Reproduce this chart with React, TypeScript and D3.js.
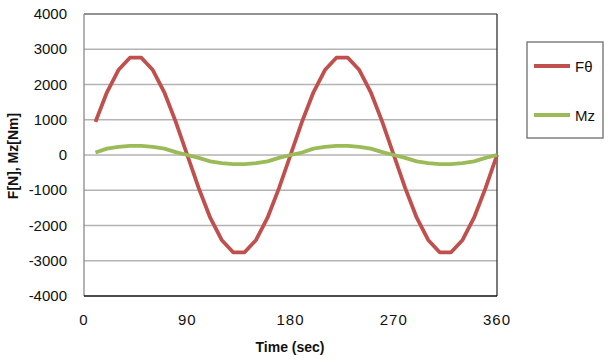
import React from "react";
import * as d3 from "d3";

const times = [10, 20, 30, 40, 50, 60, 70, 80, 90, 100, 110, 120, 130, 140, 150, 160, 170, 180,
  190, 200, 210, 220, 230, 240, 250, 260, 270, 280, 290, 300, 310, 320, 330, 340, 350, 360];
const fTheta = [940, 1780, 2410, 2760, 2760, 2410, 1780, 940, 0, -940, -1780, -2410, -2760, -2760, -2410, -1780, -940, 0,
  940, 1780, 2410, 2760, 2760, 2410, 1780, 940, 0, -940, -1780, -2410, -2760, -2760, -2410, -1780, -940, 0];
const mz = [70, 180, 230, 260, 260, 230, 180, 80, 0, -80, -180, -230, -260, -260, -230, -180, -80, 0,
  70, 180, 230, 260, 260, 230, 180, 80, 0, -80, -180, -230, -260, -260, -230, -180, -80, 0];
const xTicks = [0, 90, 180, 270, 360];
const yTicks = [-4000, -3000, -2000, -1000, 0, 1000, 2000, 3000, 4000];

const series = [
  { name: "Fθ", values: fTheta, color: "#C0504D" },
  { name: "Mz", values: mz, color: "#9BBB59" },
];

const W = 610;
const H = 362;
const plot = { left: 84, top: 14, right: 497, bottom: 296 };
const font = "'Liberation Sans', Arial, sans-serif";

export default function App() {
  const x = d3.scaleLinear().domain([0, 360]).range([plot.left, plot.right]);
  const y = d3.scaleLinear().domain([-4000, 4000]).range([plot.bottom, plot.top]);

  const line = (vals: number[]) =>
    d3.line<number>()
      .x((_, i) => x(times[i]))
      .y((d) => y(d))(vals) || "";

  return (
    <svg width={W} height={H} style={{ position: "absolute", left: 0, top: 0 }}>
      <rect width={W} height={H} fill="#fff" />
      {yTicks.filter((t) => t !== -4000 && t !== 4000).map((t) => (
        <line key={t} x1={plot.left} x2={plot.right} y1={y(t)} y2={y(t)} stroke="#b3b3b3" strokeWidth={1.3} />
      ))}
      {/* frame */}
      <line x1={plot.left} x2={plot.right} y1={plot.top} y2={plot.top} stroke="#6e6e6e" strokeWidth={1.3} />
      <line x1={plot.right} x2={plot.right} y1={plot.top} y2={plot.bottom} stroke="#333" strokeWidth={1.3} />
      <line x1={plot.left} x2={plot.left} y1={plot.top} y2={plot.bottom} stroke="#8a8a8a" strokeWidth={1.3} />
      <line x1={plot.left} x2={plot.right} y1={plot.bottom} y2={plot.bottom} stroke="#111" strokeWidth={1.3} />

      {yTicks.map((t) => (
        <text key={t} x={67} y={y(t) + 5} textAnchor="end" fontFamily={font} fontSize={15} fill="#111">
          {t}
        </text>
      ))}
      {xTicks.map((t) => (
        <text key={t} x={x(t)} y={325} textAnchor="middle" fontFamily={font} fontSize={15} fill="#111" letterSpacing={1}>
          {t}
        </text>
      ))}

      {series.map((s) => (
        <path key={s.name} d={line(s.values)} fill="none" stroke={s.color} strokeWidth={3.8} strokeLinejoin="round" />
      ))}

      <text x={290} y={352} textAnchor="middle" fontFamily={font} fontSize={14} fontWeight="bold" fill="#111">
        Time (sec)
      </text>
      <text transform={`translate(18,${(plot.top + plot.bottom) / 2 + 1}) rotate(-90)`} textAnchor="middle"
        fontFamily={font} fontSize={14} fontWeight="bold" fill="#111">
        F[N], Mz[Nm]
      </text>

      <rect x={527} y={42} width={76} height={96} fill="#fff" stroke="#6e6e6e" strokeWidth={1.3} />
      {series.map((s, i) => (
        <g key={s.name}>
          <line x1={534} x2={570} y1={66 + i * 49} y2={66 + i * 49} stroke={s.color} strokeWidth={3.8} />
          <text x={575} y={66 + i * 49 + 6} fontFamily={font} fontSize={15} fill="#111">
            {s.name}
          </text>
        </g>
      ))}
    </svg>
  );
}
